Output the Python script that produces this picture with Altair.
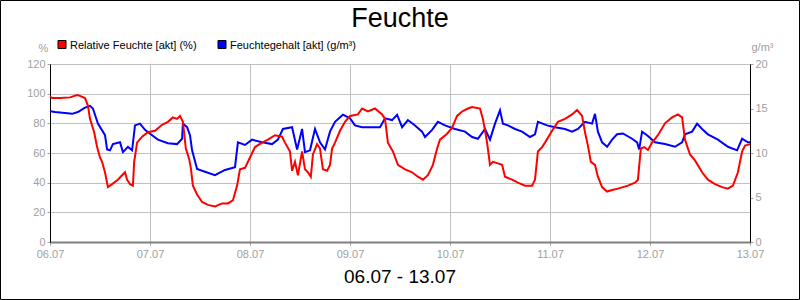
import altair as alt
import pandas as pd

# ---- data ----
series_names = ["Relative Feuchte [akt] (%)", "Feuchtegehalt [akt] (g/m³)"]
series_colors = ["#ff0000", "#0000ff"]

rh_hours = [0, 0.5, 2.4, 4.8, 6.5, 7.2, 8.4, 9.1, 9.6, 10.6, 11.3, 12.0, 12.5, 13.2, 13.9, 14.9,
            16.3, 17.3, 18.0, 18.5, 19.2, 19.9, 20.2, 20.9, 22.1, 23.5, 25.2, 26.9, 28.3, 29.5,
            30.5, 31.2, 31.9, 32.6, 33.4, 33.8, 34.3, 35.3, 36.5, 37.9, 39.6, 41.3, 42.7, 43.9,
            44.9, 45.6, 46.8, 48.0, 49.2, 50.9, 52.3, 54.0, 55.7, 56.4, 57.6, 58.1, 58.8, 59.5,
            60.5, 61.2, 61.9, 62.6, 63.1, 64.1, 64.8, 65.5, 66.5, 67.2, 67.7, 68.4, 69.6, 70.8,
            72.0, 73.9, 74.9, 76.3, 78.0, 79.7, 80.4, 81.1, 82.3, 83.5, 85.2, 86.9, 88.3, 89.5,
            90.7, 91.9, 92.9, 93.6, 95.3, 96.5, 97.7, 98.9, 100.3, 101.3, 103.2, 103.9, 104.9,
            105.6, 106.3, 107.5, 108.5, 109.2, 110.9, 112.3, 114.0, 115.7, 116.4, 117.1, 118.1,
            118.8, 120.5, 121.9, 123.6, 125.3, 126.5, 127.7, 128.4, 129.1, 129.8, 130.8, 131.5,
            132.5, 133.7, 134.9, 136.3, 138.7, 140.4, 141.1, 141.8, 142.6, 143.5, 144.5, 145.9,
            147.6, 149.3, 150.7, 151.7, 152.4, 153.6, 154.8, 156.5, 157.9, 159.6, 161.3, 162.7,
            163.9, 165.1, 166.1, 166.8, 168.0]
rh_values = [98, 97, 97, 97.5, 99, 98.5, 97, 92, 83, 74, 64, 57, 54, 47, 37, 39,
             42, 45, 47, 42, 39, 38, 54, 67, 71, 74, 75, 79, 81, 84,
             83, 85, 81, 63, 56, 50, 38, 32, 27, 25, 24, 26, 26, 28,
             38, 49, 50, 57, 64, 67, 69, 72, 71, 67, 61, 48, 54, 45,
             61, 49, 47, 44, 59, 66, 63, 49, 48, 52, 63, 67, 75, 81,
             85, 86, 90, 88, 90, 86, 83, 67, 61, 52, 49, 47, 44, 42,
             45, 52, 63, 69, 73, 77, 85, 88, 90, 91, 90, 83, 67,
             52, 54, 53, 52, 44, 42, 40, 38, 38, 42, 61, 64,
             67, 75, 81, 83, 86, 89, 85, 74, 65, 54, 52, 44,
             37, 34, 35, 36, 38, 40, 42, 63, 64, 62, 67, 72,
             80, 84, 86, 84, 69, 59, 55, 47, 42, 39, 37, 36,
             38, 47, 61, 65, 66]

ah_hours = [0, 1.2, 3.6, 5.3, 6.7, 8.4, 9.6, 10.3, 10.8, 11.5, 12.7, 13.2, 13.7, 14.4, 15.1,
            16.8, 17.5, 18.7, 19.7, 20.4, 21.6, 22.8, 24.5, 25.9, 28.3, 30.5, 31.7, 31.9, 32.9,
            33.6, 34.1, 35.3, 37.2, 39.6, 42.0, 44.4, 45.1, 46.8, 48.5, 50.9, 53.3, 54.7, 55.9,
            58.1, 59.3, 60.5, 61.2, 62.4, 63.6, 64.8, 66.0, 67.2, 68.4, 70.3, 72.0, 73.2, 74.9,
            77.3, 79.2, 80.4, 82.1, 83.3, 84.5, 85.9, 87.6, 89.3, 90.0, 91.7, 93.1, 94.8, 97.2,
            99.6, 101.3, 102.7, 104.4, 105.6, 106.8, 108.0, 108.7, 109.9, 111.6, 113.3, 115.2,
            116.4, 117.1, 119.3, 121.2, 123.6, 125.3, 126.7, 128.4, 130.1, 130.8, 131.5, 132.5,
            133.7, 134.9, 136.1, 137.5, 139.7, 140.9, 141.4, 142.1, 143.3, 145.2, 147.6, 150.0,
            151.7, 152.4, 154.1, 155.3, 156.5, 157.9, 160.3, 162.7, 164.9, 166.1, 167.5, 168.0]
ah_values = [14.7, 14.6, 14.5, 14.4, 14.6, 15.1, 15.3, 15.0, 14.3, 13.3, 12.4, 12.0, 10.4, 10.3, 11.0,
             11.2, 10.1, 10.7, 10.3, 13.1, 13.3, 12.6, 12.0, 11.5, 11.1, 11.0, 11.6, 13.3, 12.9,
             12.0, 10.3, 8.2, 7.9, 7.5, 8.1, 8.4, 11.2, 10.9, 11.5, 11.2, 11.0, 11.5, 12.7,
             12.9, 10.4, 12.7, 10.1, 10.3, 12.7, 11.2, 10.4, 12.4, 13.5, 14.3, 13.9, 13.1, 12.9,
             12.9, 12.9, 13.9, 13.7, 14.3, 12.9, 13.7, 13.1, 12.4, 11.8, 12.6, 13.5, 13.1, 12.7,
             12.4, 11.8, 11.6, 12.7, 11.5, 13.3, 14.8, 13.3, 13.1, 12.7, 12.4, 11.8,
             12.1, 13.5, 13.1, 12.9, 12.7, 12.4, 12.7, 13.5, 13.3, 14.4, 12.4, 11.2,
             10.7, 11.5, 12.1, 12.2, 11.6, 11.2, 10.4, 12.4, 12.0, 11.2, 11.0, 10.7,
             11.2, 12.1, 12.4, 13.3, 12.7, 12.1, 11.5, 10.7, 10.3, 11.6, 11.2, 11.2]

day_dates = [6, 7, 8, 9, 10, 11, 12, 13]
rh_ticks = [0, 20, 40, 60, 80, 100, 120]
ah_ticks = [0, 5, 10, 15, 20]
title_text = ["Feuchte"]
range_text = ["06.07 - 13.07"]

FONT = "Liberation Sans"
GREY = "#a0a0a0"

start = pd.Timestamp("2024-07-06 00:00")
rh_df = pd.DataFrame({"time": start + pd.to_timedelta(rh_hours, unit="h"),
                      "value": rh_values, "series": series_names[0]})
ah_df = pd.DataFrame({"time": start + pd.to_timedelta(ah_hours, unit="h"),
                      "value": ah_values, "series": series_names[1]})

day_values = [alt.DateTime(year=2024, month=7, date=d) for d in day_dates]

x_enc = alt.X("time:T",
              scale=alt.Scale(domain=[day_values[0], day_values[-1]], nice=False),
              axis=alt.Axis(values=day_values, format="%d.%m", title=None, grid=True,
                            tickSize=3, labelPadding=3, domainColor="#808080", domainWidth=2,
                            labelFlush=False, labelOverlap=False))

color_scale = alt.Scale(domain=series_names, range=series_colors)

blue = alt.Chart(ah_df).mark_line(strokeWidth=2, interpolate="linear").encode(
    x=x_enc,
    y=alt.Y("value:Q", scale=alt.Scale(domain=[0, 20], nice=False),
            axis=alt.Axis(orient="right", values=ah_ticks, grid=False, tickSize=3, labelPadding=2,
                          title="g/m³", titleAngle=0, titleX=12, titleY=-14, titleAlign="center",
                          titleBaseline="alphabetic", titleColor=GREY, titleFontSize=11,
                          titleFont=FONT, titleFontWeight="normal", domainColor="black")),
    color=alt.Color("series:N", scale=color_scale, legend=None),
)

red = alt.Chart(rh_df).mark_line(strokeWidth=2, interpolate="linear").encode(
    x=x_enc,
    y=alt.Y("value:Q", scale=alt.Scale(domain=[0, 120], nice=False),
            axis=alt.Axis(orient="left", values=rh_ticks, grid=True, tickSize=3, labelPadding=2,
                          title="%", titleAngle=0, titleX=-7, titleY=-13, titleAlign="center",
                          titleBaseline="alphabetic", titleColor=GREY, titleFontSize=11,
                          titleFont=FONT, titleFontWeight="normal", domainColor="black")),
    color=alt.Color("series:N", scale=color_scale, legend=None),
)

# legend entries (drawn as marks)
def legend_entry(name, color, sx, tx):
    d = pd.DataFrame({"t": [name]})
    sq = alt.Chart(d).mark_square(size=64, filled=True, color=color, opacity=1,
                                  stroke="black", strokeWidth=1).encode(
        x=alt.value(sx), y=alt.value(-19.5))
    tx_ = alt.Chart(d).mark_text(font=FONT, fontSize=11, align="left", baseline="alphabetic",
                                 color="black").encode(
        x=alt.value(tx), y=alt.value(-15.5), text="t:N")
    return [sq, tx_]

leg = legend_entry(series_names[0], series_colors[0], 12, 20) + \
      legend_entry(series_names[1], series_colors[1], 172, 180)

title = alt.Chart(pd.DataFrame({"t": title_text})).mark_text(
    font=FONT, fontSize=27, baseline="alphabetic", align="center", color="black"
).encode(x=alt.value(350), y=alt.value(-37), text="t:N")

range_label = alt.Chart(pd.DataFrame({"t": range_text})).mark_text(
    font=FONT, fontSize=19, baseline="alphabetic", align="center", color="black"
).encode(x=alt.value(350), y=alt.value(219), text="t:N")

frame = alt.Chart(pd.DataFrame({"t": [0]})).mark_rect(
    filled=False, stroke="black", strokeWidth=1
).encode(x=alt.value(-49.5), x2=alt.value(749.5), y=alt.value(-63.5), y2=alt.value(235.5))

chart = alt.layer(blue, red, *leg, title, range_label, frame).resolve_scale(
    y="independent"
).properties(
    width=700, height=178,
    autosize=alt.AutoSizeParams(type="none"),
    padding={"left": 50, "top": 64, "right": 50, "bottom": 58},
    background="white",
).configure_view(
    stroke="black", strokeWidth=1
).configure_axis(
    labelFont=FONT, labelFontSize=11, labelColor=GREY, tickColor=GREY,
    gridColor="#c0c0c0", gridWidth=1,
)

chart.save("out.html", embed_options={"renderer": "svg", "actions": False})
